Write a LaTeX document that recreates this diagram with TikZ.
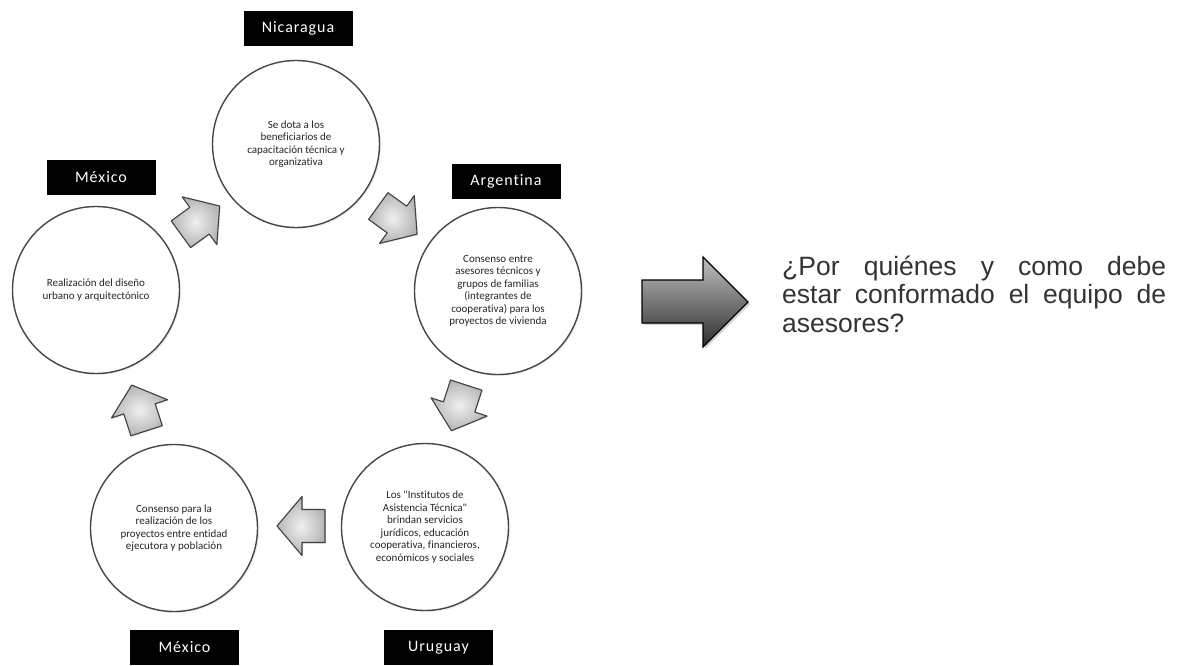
\documentclass[tikz,border=0pt]{standalone}
\usepackage{fontspec}
\setmainfont{Carlito}
\newfontfamily\stagefont[Ligatures=NoCommon]{Carlito}
\newfontfamily\labelfont[LetterSpace=6,Ligatures=NoCommon]{Carlito}
\newfontfamily\qfont{Liberation Sans}
\usetikzlibrary{shadows}

\tikzset{
  stage/.style={circle, draw=black!72, line width=1.4pt, fill=white,
    minimum size=167pt, inner sep=0pt, align=center,
    font=\stagefont\fontsize{11}{12.5}\selectfont, text=black!85,
    drop shadow={opacity=0.15, shadow xshift=1.5pt, shadow yshift=-1.5pt}},
  country/.style={fill=black, text=white, minimum width=109pt,
    minimum height=35pt, inner sep=0pt,
    font=\labelfont\fontsize{16}{18}\selectfont},
  turn/.style={draw=black!75, line width=1.1pt, line join=round,
    inner color=gray!12, outer color=gray!58,
    drop shadow={opacity=0.2, shadow xshift=1pt, shadow yshift=-1pt}},
  bigarrow/.style={draw=black, line width=1.2pt, line join=miter,
    top color=black!25, bottom color=black!82,
    drop shadow={opacity=0.35, shadow xshift=2pt, shadow yshift=-2pt}},
  cyclearrow/.pic={
    \path[turn] (24,0) -- (-1,-29.5) -- (-1,-16.5) -- (-24,-16.5)
      -- (-24,16.5) -- (-1,16.5) -- (-1,29.5) -- cycle;
  }
}

\begin{document}
\begin{tikzpicture}[x=1pt,y=-1pt]
\useasboundingbox (0,0) rectangle (1179,665);

% five stages on a cycle
\node[stage] (nic) at (296,144)
  {Se dota a los\\beneficiarios de\\capacitación técnica y\\organizativa};
\node[stage] (arg) at (498,291)
  {Consenso entre\\asesores técnicos y\\grupos de familias\\(integrantes de\\cooperativa) para los\\proyectos de vivienda};
\node[stage] (uru) at (425,527)
  {Los "Institutos de\\Asistencia Técnica"\\brindan servicios\\jurídicos, educación\\cooperativa, financieros,\\económicos y sociales};
\node[stage] (mexb) at (174,528)
  {Consenso para la\\realización de los\\proyectos entre entidad\\ejecutora y población};
\node[stage] (mext) at (96,290)
  {Realización del diseño\\urbano y arquitectónico};

% clockwise arrows between the stages
\pic[rotate=-36] (t1) at (397.7,220.1) {cyclearrow};
\pic[rotate=-108] (t2) at (458.8,407.9) {cyclearrow};
\pic[rotate=180] (t3) at (301,526) {cyclearrow};
\pic[rotate=108] (t4) at (139.2,407.9) {cyclearrow};
\pic[rotate=36] (t5) at (200.3,220.1) {cyclearrow};

% country labels
\node[country] (lnic) at (298,28) {Nicaragua};
\node[country] (lmext) at (101,177.5) {México};
\node[country] (larg) at (506,181) {Argentina};
\node[country] (lmexb) at (184.5,647.5) {México};
\node[country] (luru) at (438.5,647.5) {Uruguay};

% large arrow towards the question
\path[bigarrow] (642,280) -- (703,280) -- (703,257) -- (748,302)
  -- (703,347) -- (703,323) -- (642,323) -- cycle;

\node[anchor=base west, inner sep=0pt, text=black!80] (q) at (782,275)
  {\parbox[t]{384pt}{\qfont\fontsize{26.5}{28.5}\selectfont
   \makebox[384pt][s]{¿Por quiénes y como debe}\\
   \makebox[384pt][s]{estar conformado el equipo de}\\
   asesores?}};
\end{tikzpicture}
\end{document}
